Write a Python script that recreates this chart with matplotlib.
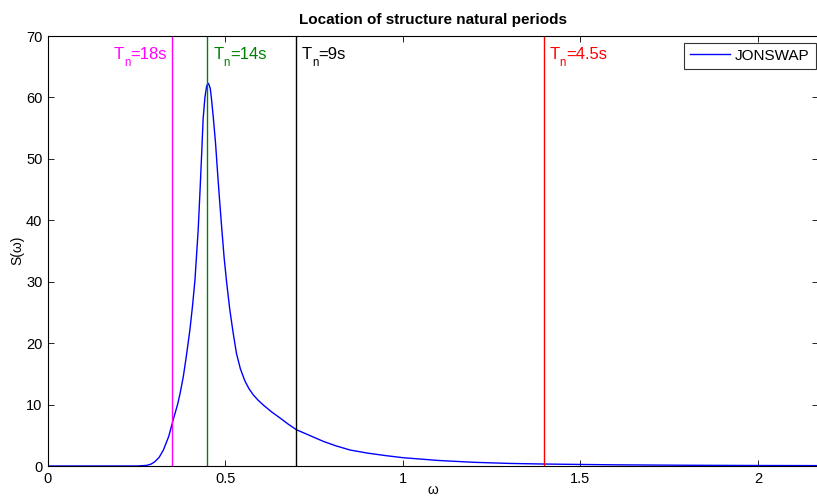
import numpy as np
import matplotlib
matplotlib.use('Agg')
import matplotlib.pyplot as plt

plt.rcParams['font.family'] = ['Liberation Sans', 'DejaVu Sans']

# spectrum
omega = [0.0, 0.25, 0.278, 0.29, 0.301, 0.313, 0.325, 0.34, 0.353, 0.365,
         0.372, 0.381, 0.39, 0.40, 0.407, 0.414, 0.423, 0.428, 0.433, 0.437,
         0.442, 0.447, 0.452, 0.457, 0.461, 0.466, 0.472, 0.478, 0.483, 0.489,
         0.496, 0.503, 0.512, 0.522, 0.531, 0.542, 0.555, 0.566, 0.578, 0.592,
         0.607, 0.63, 0.654, 0.677, 0.70, 0.74, 0.776, 0.81, 0.851, 0.9,
         0.95, 1.0, 1.1, 1.2, 1.3, 1.386, 1.5, 1.6, 1.8, 2.0, 2.2]
S = [0.0, 0.0, 0.1, 0.3, 0.7, 1.4, 2.6, 4.8, 7.6, 10.0,
     11.8, 14.5, 18.0, 22.3, 26.0, 30.3, 38.4, 44.5, 51.0, 56.5,
     60.0, 61.9, 62.3, 61.5, 59.5, 56.5, 52.5, 47.5, 43.5, 39.0,
     34.0, 30.0, 25.5, 21.5, 18.3, 15.8, 13.8, 12.6, 11.6, 10.7,
     9.9, 8.8, 7.8, 6.8, 5.9, 4.9, 4.0, 3.3, 2.6, 2.1,
     1.7, 1.35, 0.9, 0.6, 0.42, 0.33, 0.25, 0.19, 0.12, 0.08, 0.06]

periods = [18, 14, 9, 4.5]
period_labels = ['=18s', '=14s', '=9s', '=4.5s']
period_colors = ['#ff00ff', '#008000', 'black', 'red']

fig = plt.figure(figsize=(8.17, 4.97), dpi=100)
ax = fig.add_axes([48/817, 31/497, 770/817, 430/497])

ax.plot(omega, S, color='blue', lw=1.0, label='JONSWAP')

r = fig.canvas.get_renderer()


def text_width(s, size):
    t = fig.text(0, 0, s, fontsize=size)
    w = t.get_window_extent(r).width
    t.remove()
    return w * 72 / 100   # points


fs, fs_sub = 12, 8.3
for T, lab, c in zip(periods, period_labels, period_colors):
    w = 2*np.pi/T
    ax.plot([w, w], [0, 70], color=c, lw=1.0)
    wT = text_width('T', fs)
    wn = text_width('n', fs_sub)
    wr = text_width(lab, fs)
    if T == 18:
        x0 = -3.6 - (wT + wn + wr)
    else:
        x0 = 4.3
    kw = dict(xycoords='data', textcoords='offset points', ha='left',
              va='baseline', color=c)
    ax.annotate('T', (w, 66.3), xytext=(x0, 0), fontsize=fs, **kw)
    ax.annotate('n', (w, 66.3), xytext=(x0 + wT, -5.5), fontsize=fs_sub, **kw)
    ax.annotate(lab, (w, 66.3), xytext=(x0 + wT + wn, 0), fontsize=fs, **kw)

ax.set_xlim(0, 770/355)
ax.set_ylim(0, 70)
ax.set_xticks([0, 0.5, 1, 1.5, 2])
ax.set_xticklabels(['0', '0.5', '1', '1.5', '2'])
ax.set_yticks(range(0, 71, 10))
ax.tick_params(direction='in', length=4, width=0.6, top=True, right=True,
               labelsize=10.5, pad=4)
for sp in ax.spines.values():
    sp.set_linewidth(0.8)

fig.text(433/817, 1-490/497, 'ω', ha='center', va='center', fontsize=10)
fig.text(17/817, 1-250/497, 'S(ω)', ha='center', va='center', fontsize=10,
         rotation=90)
fig.text(433/817, 1-20/497, 'Location of structure natural periods',
         ha='center', va='center', fontsize=11, fontweight='bold')

leg = ax.legend(loc='upper left', bbox_to_anchor=(684/817, 1-42.7/497),
                bbox_transform=fig.transFigure, borderaxespad=0,
                fancybox=False, edgecolor='black', fontsize=11,
                handlelength=2.6, borderpad=0.4, handletextpad=0.35)
leg.get_frame().set_linewidth(0.8)

fig.savefig('out.png', dpi=100)
